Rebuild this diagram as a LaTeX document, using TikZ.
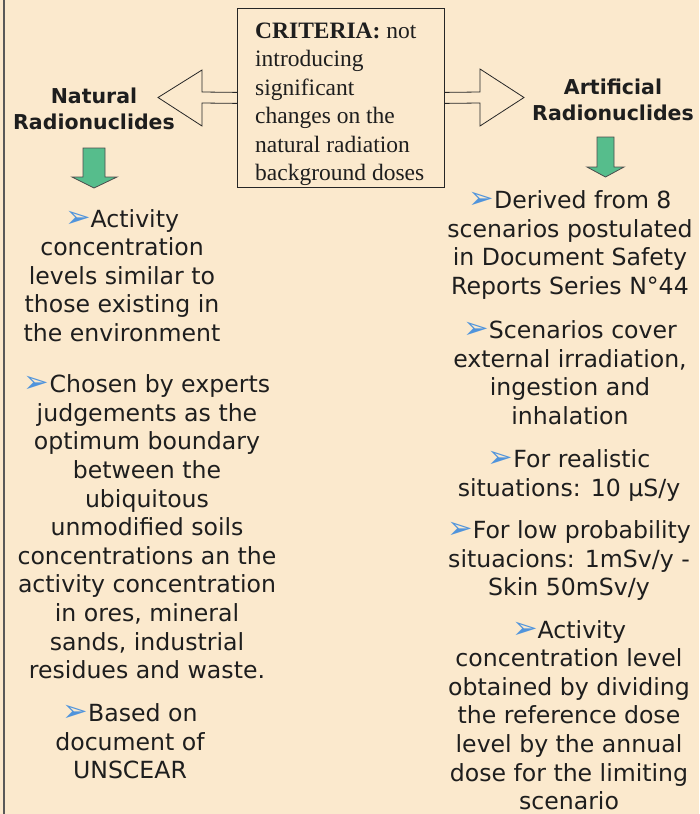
\documentclass[tikz,border=0pt]{standalone}
\usepackage{fontspec}
\setmainfont{DejaVu Sans}
\newfontfamily\crfont{Liberation Serif}
\usetikzlibrary{calc}
\definecolor{bg}{RGB}{251,233,205}
\definecolor{txt}{RGB}{30,30,30}
\definecolor{bltc}{RGB}{80,148,220}
\definecolor{grn}{RGB}{86,189,140}
\newcommand\bl{{\color{bltc}\raisebox{-0.3pt}{\scalebox{1.3}{➢}}}}
\begin{document}
\begin{tikzpicture}[x=1pt,y=-1pt,
  body/.style={font=\fontsize{23.6}{28.6}\selectfont, align=center, inner sep=0, text=txt, anchor=north},
  head/.style={font=\fontsize{20.5}{26}\selectfont\bfseries, align=center, inner sep=0, text=txt, anchor=north},
  crittext/.style={font=\crfont\fontsize{23.5}{28.5}\selectfont, align=left, inner sep=0, text=txt, anchor=north west},
  outline/.style={draw=black!85, line width=0.8pt},
  greenarrow/.style={fill=grn, draw=black!70, line width=0.8pt}]
\fill[bg] (0,0) rectangle (699,814);
\useasboundingbox (0,0) rectangle (699,814);
\draw[line width=1.2pt, black!65] (4,0) -- (4,814);
% criteria box
\node[outline, minimum width=207pt, minimum height=179pt, anchor=north west, inner sep=0] (crit) at (237,8) {};
\node[crittext] (crittxt) at (255,22.5) {\textbf{CRITERIA:} not\\introducing\\significant\\changes on the\\natural radiation\\background doses};
% hollow arrows
\draw[outline] ($(crit.west)+(0,-5.5)$) -- (202,92) -- (202,70) -- (158,97.5) -- (202,126) -- (202,103) -- ($(crit.west)+(0,5.5)$);
\draw[outline] ($(crit.east)+(0,-5.5)$) -- (480,92) -- (480,69) -- (524,97.5) -- (480,126) -- (480,103) -- ($(crit.east)+(0,5.5)$);
% headings
\node[head] (nat) at (94,88) {Natural\\Radionuclides};
\node[head] (art) at (613,79) {Artificial\\Radionuclides};
% green arrows
\draw[greenarrow] (83,148) -- (105,148) -- (105,177) -- (117,177) -- (94,188) -- (72,177) -- (83,177) -- cycle;
\draw[greenarrow] (597,137) -- (614,137) -- (614,167) -- (624,167) -- (605.5,177) -- (587,167) -- (597,167) -- cycle;
% left texts
\node[body] (l1) at (122,209) {\bl Activity\\concentration\\levels similar to\\those existing in\\the environment};
\node[body] (l2) at (147,374.5) {\bl Chosen by experts\\judgements as the\\optimum boundary\\between the\\ubiquitous\\unmodified soils\\concentrations an the\\activity concentration\\in ores, mineral\\sands, industrial\\residues and waste.};
\node[body] (l3) at (130,703.5) {\bl Based on\\document of\\UNSCEAR};
% right texts
\node[body] (r1) at (570,190.5) {\bl Derived from 8\\scenarios postulated\\in Document Safety\\Reports Series N°44};
\node[body] (r2) at (570,320.5) {\bl Scenarios cover\\external irradiation,\\ingestion and\\inhalation};
\node[body] (r3) at (569,449.5) {\bl For realistic\\situations: 10 μS/y};
\node[body] (r4) at (569,520.5) {\bl For low probability\\situacions: 1mSv/y -\\Skin 50mSv/y};
\node[body] (r5) at (569,620) {\bl Activity\\concentration level\\obtained by dividing\\the reference dose\\level by the annual\\dose for the limiting\\scenario};
\end{tikzpicture}
\end{document}
